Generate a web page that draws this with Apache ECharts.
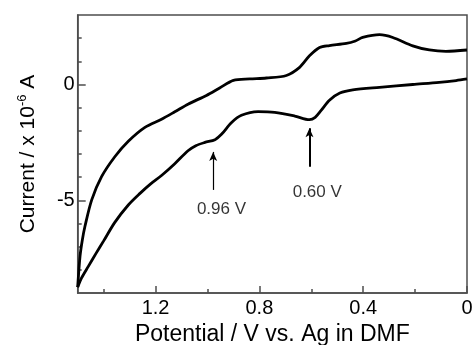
<!DOCTYPE html>
<html>
<head>
<meta charset="utf-8">
<script src="https://cdn.jsdelivr.net/npm/echarts@6/dist/echarts.min.js"></script>
<style>
html,body{margin:0;padding:0;background:#fff;}
#chart{width:472px;height:345px;}
</style>
</head>
<body>
<div id="chart"></div>
<script>
// ---- data ----
var potentialUpper = [1.5, 1.491, 1.482, 1.472, 1.446, 1.408, 1.357, 1.305, 1.241, 1.177, 1.126, 1.075, 1.004, 0.953, 0.90, 0.837, 0.773, 0.696, 0.645, 0.607, 0.568, 0.530, 0.465, 0.43, 0.402, 0.337, 0.286, 0.209, 0.145, 0.081, 0.0];
var currentUpper   = [-8.75, -7.41, -6.70, -6.12, -4.98, -3.98, -3.12, -2.45, -1.85, -1.50, -1.18, -0.85, -0.47, -0.15, 0.18, 0.24, 0.28, 0.39, 0.74, 1.24, 1.60, 1.68, 1.77, 1.88, 2.03, 2.15, 2.03, 1.67, 1.49, 1.43, 1.49];
var potentialLower = [1.5, 1.485, 1.459, 1.43, 1.40, 1.357, 1.305, 1.26, 1.22, 1.177, 1.126, 1.075, 1.045, 1.01, 0.971, 0.946, 0.908, 0.869, 0.805, 0.741, 0.664, 0.607, 0.585, 0.562, 0.53, 0.49, 0.44, 0.337, 0.209, 0.107, 0.042, 0.0];
var currentLower   = [-8.75, -8.35, -7.85, -7.3, -6.75, -5.95, -5.2, -4.7, -4.3, -3.93, -3.42, -2.86, -2.64, -2.5, -2.38, -2.15, -1.65, -1.33, -1.17, -1.2, -1.36, -1.52, -1.42, -1.12, -0.68, -0.37, -0.23, -0.12, 0.0, 0.09, 0.17, 0.24];
var xTickLabels = [1.2, 0.8, 0.4, 0];
var xMinorTicks = [1.4, 1.0, 0.6, 0.2];
var yTickLabels = [0, -5];
var yMinorTicks = [-8, -7, -6, -4, -3, -2, -1, 1, 2];
var peakLabels = ['0.96 V', '0.60 V'];
var peakArrowX = [0.978, 0.607];
var peakArrowFrom = [-4.55, -3.55];
var peakArrowTo = [-2.91, -1.89];
var peakLabelX = [0.946, 0.577];
var peakLabelY = [-5.38, -4.67];

function pairs(xs, ys) { return xs.map(function (x, i) { return [x, ys[i]]; }); }

var FONT = 'Liberation Sans, Arial, sans-serif';
var AXIS_COLOR = '#4d4d4d';

var chart = echarts.init(document.getElementById('chart'), null, {renderer: 'canvas'});

var arrowWidths = [1.2, 2];
var markLines = peakArrowX.map(function (x, i) {
  return [
    {coord: [x, peakArrowFrom[i]], symbol: 'none', lineStyle: {width: arrowWidths[i], color: '#000', type: 'solid'}},
    {coord: [x, peakArrowTo[i]], symbol: 'arrow', symbolSize: [6, 9]}
  ];
});

var option = {
  animation: false,
  backgroundColor: '#fff',
  grid: {left: 77.7, right: 5, top: 15, bottom: 52, show: true, borderColor: AXIS_COLOR, borderWidth: 1.5, outerBoundsMode: 'none', containLabel: false},
  xAxis: [{
    type: 'value', min: 0, max: 1.5, inverse: true, position: 'bottom',
    name: 'Potential / V vs. Ag in DMF', nameLocation: 'middle', nameGap: 28,
    nameTextStyle: {fontFamily: FONT, fontSize: 23, color: '#000'},
    axisLine: {show: true, onZero: false, lineStyle: {color: AXIS_COLOR, width: 1.5}},
    axisTick: {show: true, inside: true, length: 7, customValues: xTickLabels, lineStyle: {color: AXIS_COLOR, width: 1.5}},
    axisLabel: {show: true, customValues: xTickLabels, margin: 5, fontFamily: FONT, fontSize: 20, color: '#000'},
    splitLine: {show: false}
  }, {
    type: 'value', min: 0, max: 1.5, inverse: true, position: 'bottom', offset: 0,
    axisLine: {show: false, onZero: false},
    axisTick: {show: true, inside: true, length: 4, customValues: xMinorTicks, lineStyle: {color: AXIS_COLOR, width: 1.5}},
    axisLabel: {show: false},
    splitLine: {show: false}
  }],
  yAxis: [{
    type: 'value', min: -9, max: 3, position: 'left',
    name: '{a|Current / x 10}{s|-6}{a| A}', nameLocation: 'middle', nameGap: 36, nameRotate: 90,
    nameTextStyle: {fontFamily: FONT, color: '#000', rich: {
      a: {fontFamily: FONT, fontSize: 21, color: '#000', lineHeight: 26},
      s: {fontFamily: FONT, fontSize: 13, color: '#000', lineHeight: 14, verticalAlign: 'top'}
    }},
    axisLine: {show: true, onZero: false, lineStyle: {color: AXIS_COLOR, width: 1.5}},
    axisTick: {show: true, inside: true, length: 8, customValues: yTickLabels, lineStyle: {color: AXIS_COLOR, width: 1.5}},
    axisLabel: {show: true, customValues: yTickLabels, margin: 3, fontFamily: FONT, fontSize: 20, color: '#000'},
    splitLine: {show: false}
  }, {
    type: 'value', min: -9, max: 3, position: 'left', offset: 0,
    axisLine: {show: false, onZero: false},
    axisTick: {show: true, inside: true, length: 4, customValues: yMinorTicks, lineStyle: {color: AXIS_COLOR, width: 1.5}},
    axisLabel: {show: false},
    splitLine: {show: false}
  }],
  series: [{
    type: 'line', name: 'upper', xAxisIndex: 0, yAxisIndex: 0,
    data: pairs(potentialUpper, currentUpper), smooth: 0.3, showSymbol: false, symbol: 'none',
    lineStyle: {color: '#000', width: 2.8}, silent: true
  }, {
    type: 'line', name: 'lower', xAxisIndex: 0, yAxisIndex: 0,
    data: pairs(potentialLower, currentLower), smooth: 0.3, showSymbol: false, symbol: 'none',
    lineStyle: {color: '#000', width: 2.8}, silent: true
  }, {
    type: 'scatter', name: 'labels', xAxisIndex: 0, yAxisIndex: 0,
    symbolSize: 0, silent: true,
    data: peakLabels.map(function (t, i) { return {name: t, value: [peakLabelX[i], peakLabelY[i]]}; }),
    label: {show: true, position: 'inside', formatter: '{b}', fontFamily: FONT, fontSize: 17, color: '#000'},
    markLine: {silent: true, symbol: ['none', 'arrow'], label: {show: false}, lineStyle: {color: '#000', type: 'solid'}, data: markLines}
  }]
};
chart.setOption(option);
</script>
</body>
</html>
